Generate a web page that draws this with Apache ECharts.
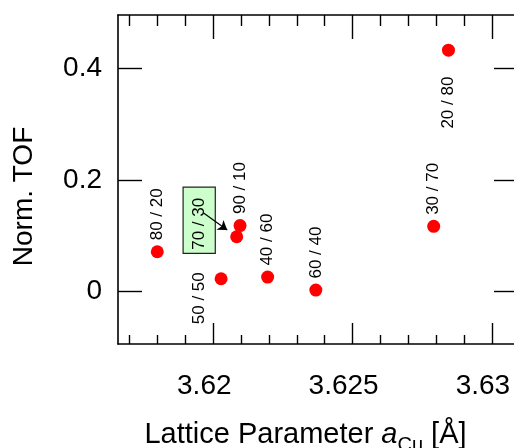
<!DOCTYPE html>
<html><head><meta charset="utf-8">
<script src="https://cdn.jsdelivr.net/npm/echarts@6/dist/echarts.min.js"></script>
<style>html,body{margin:0;padding:0;background:#fff}#c{width:514px;height:448px}</style>
</head><body><div id="c"></div>
<script>
const names = ['80 / 20','50 / 50','70 / 30','90 / 10','40 / 60','60 / 40','30 / 70','20 / 80'];
const latt  = [3.61799, 3.62028, 3.62084, 3.62096, 3.62195, 3.62368, 3.62791, 3.62844];
const tof   = [0.0714, 0.023, 0.0983, 0.1184, 0.026, 0.0027, 0.117, 0.433];
const xMajor = [3.62, 3.625, 3.63];
const xMinor = [3.617,3.618,3.619,3.621,3.622,3.623,3.624,3.626,3.627,3.628,3.629];
const yMajor = [0, 0.2, 0.4];
const arrowFrom = [3.61964, 0.1413];
const arrowTo = [3.6205, 0.1103];
const xRange = [3.61658, 3.6309];
const yRange = [-0.094, 0.496];

const FONT = "'Liberation Sans', Arial, sans-serif";
const BLK = '#000';

const base = {show:true, formatter:'{b}', color:BLK, fontSize:17, fontFamily:FONT, rotate:90};
const labelTop = Object.assign({}, base, {position:'top', distance:5, align:'left', verticalAlign:'middle'});
const labelStyles = {
  '80 / 20': labelTop,
  '90 / 10': labelTop,
  '40 / 60': labelTop,
  '60 / 40': labelTop,
  '30 / 70': labelTop,
  '20 / 80': Object.assign({}, base, {position:'bottom', distance:20, align:'right', verticalAlign:'middle'}),
  '50 / 50': Object.assign({}, base, {position:[-15, 0], align:'right', verticalAlign:'middle'}),
  '70 / 30': Object.assign({}, base, {position:[-31, -10], align:'center', verticalAlign:'middle',
              backgroundColor:'#ccffcc', borderColor:'#222', borderWidth:1.2, padding:[7,10,7,3]})
};

const data = names.map((n,i)=>({value:[latt[i], tof[i]], name:n, label:labelStyles[n]}));

function xAx(pos, vals, len, labels, line){
  return {type:'value', position:pos, min:xRange[0], max:xRange[1], scale:true,
    axisLine:{show:line, onZero:false, lineStyle:{color:BLK, width:1.6}},
    axisTick:{show:true, inside:true, length:len, customValues:vals, lineStyle:{color:BLK, width:1.4}},
    axisLabel:{show:labels, customValues:vals, margin:28, fontSize:28, color:BLK, fontFamily:FONT,
      padding:[0,18,0,0], formatter:v=>String(+v.toFixed(4))},
    splitLine:{show:false}};
}
function yAx(pos, len, labels){
  return {type:'value', position:pos, min:yRange[0], max:yRange[1],
    axisLine:{show:true, onZero:false, lineStyle:{color:BLK, width:1.6}},
    axisTick:{show:true, inside:true, length:len, customValues:yMajor, lineStyle:{color:BLK, width:1.4}},
    axisLabel:{show:labels, customValues:yMajor, margin:16, fontSize:28, color:BLK, fontFamily:FONT,
      formatter:v=>String(+v.toFixed(2))},
    splitLine:{show:false}};
}

const xs = [xAx('bottom', xMajor, 21, true, true), xAx('bottom', xMinor, 9, false, false),
            xAx('top', xMajor, 24, false, true), xAx('top', xMinor, 11, false, false)];
xs[0].name = 'Lattice Parameter {i|a}{s|Cu} [Å]';
xs[0].nameLocation = 'middle';
xs[0].nameGap = 71;
xs[0].nameTextStyle = {fontSize:29, color:BLK, fontFamily:FONT, padding:[0,24,0,0],
  rich:{i:{fontSize:29, fontStyle:'italic', color:BLK, fontFamily:FONT},
        s:{fontSize:20, color:BLK, fontFamily:FONT, padding:[20,0,0,0]}}};
const ys = [yAx('left', 24, true), yAx('right', 23, false)];
ys[0].name = 'Norm. TOF';
ys[0].nameLocation = 'middle';
ys[0].nameRotate = 90;
ys[0].nameGap = 80;
ys[0].nameTextStyle = {fontSize:28, color:BLK, fontFamily:FONT, padding:[0,34,0,0]};

const chart = echarts.init(document.getElementById('c'), null, {renderer:'canvas'});
chart.setOption({
  animation:false,
  backgroundColor:'#fff',
  grid:{left:118, top:15, right:-3, bottom:104, containLabel:false, outerBoundsMode:'none'},
  xAxis: xs,
  yAxis: ys,
  series:[{
    type:'scatter', xAxisIndex:0, yAxisIndex:0,
    symbol:'circle', symbolSize:13,
    itemStyle:{color:'#ff0000', opacity:1},
    data:data,
    markLine:{silent:true, symbol:['none','arrow'], symbolSize:9,
      lineStyle:{color:BLK, width:1.2, type:'solid', opacity:1}, label:{show:false},
      data:[[{coord:arrowFrom},{coord:arrowTo}]]}
  }]
});
</script></body></html>
